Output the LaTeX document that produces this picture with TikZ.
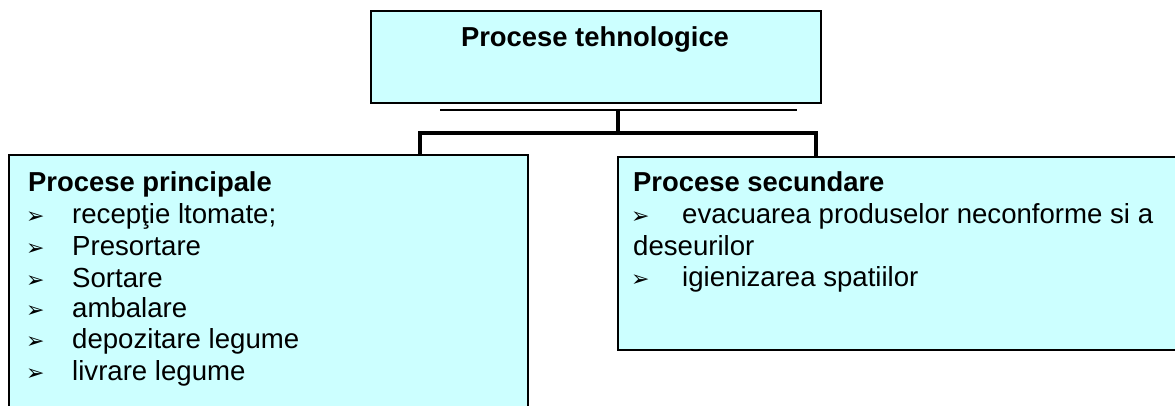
\documentclass[tikz,border=0pt]{standalone}
\usepackage{fontspec}
\setmainfont{Liberation Sans}
\newfontfamily\dejavu{DejaVu Sans}
\definecolor{boxfill}{HTML}{CCFFFF}
\begin{document}
\begin{tikzpicture}[x=1pt,y=-1pt,
  box/.style={draw=black,line width=1.6pt,fill=boxfill,rectangle,inner sep=0pt,anchor=north west},
  txt/.style={inner sep=0pt,anchor=base west,font=\fontsize{27.6}{32}\selectfont},
  hdr/.style={txt,font=\fontsize{27.4}{32}\selectfont\bfseries},
  bul/.style={inner sep=0pt,anchor=base west,font=\dejavu\fontsize{22}{22}\selectfont},
  thin/.style={line width=1.6pt},
  thick/.style={line width=3.2pt}]
\useasboundingbox (0,0) rectangle (1175,406);
\clip (0,0) rectangle (1175,406);
% boxes
\node[box,minimum width=450pt,minimum height=92pt] (top) at (370,10) {};
\node[box,minimum width=519pt,minimum height=280pt] (left) at (8,154) {};
\node[box,minimum width=600pt,minimum height=193pt] (right) at (617,156) {};
% connectors
\coordinate (tl) at (440,110);
\coordinate (tr) at (797,110);
\coordinate (tm) at (618,110);
\coordinate (hm) at (618,133);
\coordinate (hl) at (420,133);
\coordinate (hr) at (816,133);
\draw[thin] (tl) -- (tr);
\draw[thick] (tm) -- (hm);
\draw[thick,line join=miter] (hl |- left.north) -- (hl) -- (hr) -- (hr |- right.north);
% top text
\node[hdr,anchor=base] (ttl) at (595,47) {Procese tehnologice};
% left box text
\node[hdr] (lh) at (28,192) {Procese principale};
\foreach \y/\t [count=\i] in {223/{recepţie ltomate;},255/Presortare,287/Sortare,317/ambalare,348/{depozitare legume},380/{livrare legume}}{
  \node[bul] (lb\i) at (26,\y) {➢};
  \node[txt] (lt\i) at (72,\y) {\t};
}
% right box text
\node[hdr] (rh) at (633,192) {Procese secundare};
\node[bul] (rb1) at (631,223) {➢};
\node[txt] (rt1) at (682,223) {evacuarea produselor neconforme si a};
\node[txt] (rt2) at (633,255) {deseurilor};
\node[bul] (rb3) at (631,286) {➢};
\node[txt] (rt3) at (682,286) {igienizarea spatiilor};
\end{tikzpicture}
\end{document}
